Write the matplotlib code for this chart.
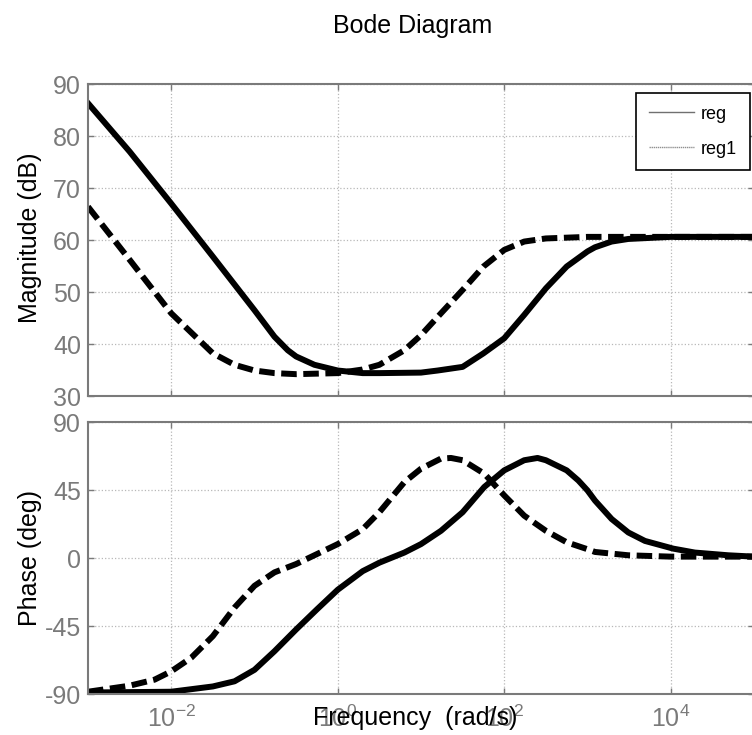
import numpy as np
import matplotlib
matplotlib.use("Agg")
import matplotlib.pyplot as plt
from matplotlib.lines import Line2D
from matplotlib.ticker import FixedLocator, LogFormatterSciNotation, NullLocator

plt.rcParams['font.family'] = ['Liberation Sans', 'DejaVu Sans']
plt.rcParams['axes.unicode_minus'] = False

# log10 of frequency (rad/s)
mag_reg_logw = [-3, -2.5, -2.0, -1.5, -1.0, -0.76, -0.6, -0.5, -0.28, 0, 0.3, 0.5, 1.0, 1.2,
                1.5, 1.75, 2.0, 2.24, 2.5, 2.75, 3.0, 3.09, 3.29, 3.49, 4.0, 5.0]
mag_reg = [86.3, 77, 67, 56.8, 46.5, 41.4, 38.8, 37.6, 36, 34.9, 34.4, 34.4, 34.5, 34.9,
           35.6, 38.2, 41.1, 45.6, 50.7, 54.9, 57.8, 58.6, 59.7, 60.2, 60.6, 60.6]

mag_reg1_logw = [-3, -2.5, -2.0, -1.5, -1.24, -1.0, -0.76, -0.5, 0, 0.3, 0.5, 0.8, 1.0, 1.24,
                 1.5, 1.75, 2.0, 2.24, 2.5, 3.0, 5.0]
mag_reg1 = [66.4, 56.2, 45.9, 38.2, 36, 34.9, 34.4, 34.2, 34.4, 35.1, 36, 38.8, 41.7, 45.9,
            50.4, 54.9, 58.1, 59.7, 60.3, 60.6, 60.6]

ph_reg_logw = [-3, -2, -1.5, -1.24, -1.0, -0.76, -0.5, -0.25, 0, 0.3, 0.5, 0.8, 1.0, 1.24, 1.5,
               1.76, 2.0, 2.24, 2.4, 2.5, 2.75, 2.89, 3.0, 3.09, 3.29, 3.49, 3.69, 4.03, 4.29,
               4.69, 5.0]
ph_reg = [-89, -88.5, -85, -81.6, -74, -61.7, -47.3, -34, -21, -8.7, -3.1, 3.6, 9.2, 18, 30.3,
          47, 58, 64.7, 66.2, 64.7, 58, 51.3, 44.7, 38, 25.8, 16.9, 11.3, 6.2, 3.6, 1.8, 0.9]

ph_reg1_logw = [-3, -2.5, -2.2, -2.0, -1.76, -1.5, -1.24, -1.0, -0.76, -0.5, -0.25, 0, 0.3, 0.5,
                0.8, 1.0, 1.24, 1.36, 1.5, 1.76, 2.0, 2.24, 2.5, 2.75, 3.0, 3.09, 3.49, 4.0, 5.0]
ph_reg1 = [-88.5, -84.5, -80.5, -75, -66, -51.7, -32.8, -18.4, -9.5, -4, 2.6, 9.2, 19.1, 30.3,
           50.2, 59.1, 65.8, 66.2, 64.7, 55.8, 41.4, 28, 18, 10.4, 5.8, 4, 1.8, 0.9, 0.9]

labels = ["reg", "reg1"]
mag_ticks = [30, 40, 50, 60, 70, 80, 90]
ph_ticks = [-90, -45, 0, 45, 90]
x_ticks = [1e-2, 1e0, 1e2, 1e4]

W, H = 752, 735
fig = plt.figure(figsize=(W / 100, H / 100), dpi=100)

left = 88 / W
right = 754 / W
ax_mag = fig.add_axes([left, 1 - 396 / H, right - left, (396 - 84) / H])
ax_ph = fig.add_axes([left, 1 - 694 / H, right - left, (694 - 422) / H])

grey = "#7a7a7a"
lw = 4.3
dash = (2.6, 1.1)

ax_mag.plot(10 ** np.array(mag_reg_logw), mag_reg, color="black", lw=lw,
            solid_joinstyle="round")
ax_mag.plot(10 ** np.array(mag_reg1_logw), mag_reg1, color="black", lw=lw, dashes=dash)
ax_ph.plot(10 ** np.array(ph_reg_logw), ph_reg, color="black", lw=lw,
           solid_joinstyle="round")
ax_ph.plot(10 ** np.array(ph_reg1_logw), ph_reg1, color="black", lw=lw, dashes=dash)

for ax, yt in [(ax_mag, mag_ticks), (ax_ph, ph_ticks)]:
    ax.set_xscale("log")
    ax.set_xlim(1e-3, 1e5)
    ax.set_ylim(yt[0], yt[-1])
    ax.set_yticks(yt)
    ax.xaxis.set_major_locator(FixedLocator(x_ticks))
    ax.xaxis.set_minor_locator(NullLocator())
    ax.xaxis.set_major_formatter(LogFormatterSciNotation())
    ax.grid(True, color="#b8b8b8", linestyle=":", linewidth=0.9)
    ax.tick_params(direction="in", length=4, width=1, colors=grey, labelsize=18,
                   top=True, right=True, pad=5)
    for s in ax.spines.values():
        s.set_color(grey)
        s.set_linewidth(1.5)

ax_mag.tick_params(labelbottom=False)
ax_ph.tick_params(axis="x", pad=8)

fig.text(413 / W, 1 - 33 / H, "Bode Diagram", ha="center", va="baseline", fontsize=18)
fig.text(30 / W, 1 - 238 / H, "Magnitude (dB)", rotation=90, ha="center", va="center",
         fontsize=18)
fig.text(30 / W, 1 - 558 / H, "Phase (deg)", rotation=90, ha="center", va="center",
         fontsize=18)
fig.text(415 / W, 1 - 718 / H, "Frequency  (rad/s)", ha="center", va="center", fontsize=18)

# legend uses thin grey sample lines, like the original
handles = [Line2D([], [], color="#707070", lw=1.0),
           Line2D([], [], color="#909090", lw=1.0, linestyle=(0, (1, 0.5)))]
leg = fig.legend(handles, labels, loc="upper right", bbox_to_anchor=(750 / W, 1 - 93 / H),
                 bbox_transform=fig.transFigure, borderaxespad=0, fancybox=False,
                 edgecolor="black", framealpha=1, prop={"size": 13},
                 handlelength=2.5, handletextpad=0.4, labelspacing=1.0, borderpad=0.7)
leg.get_frame().set_linewidth(1.2)

fig.savefig("out.png", dpi=100)
